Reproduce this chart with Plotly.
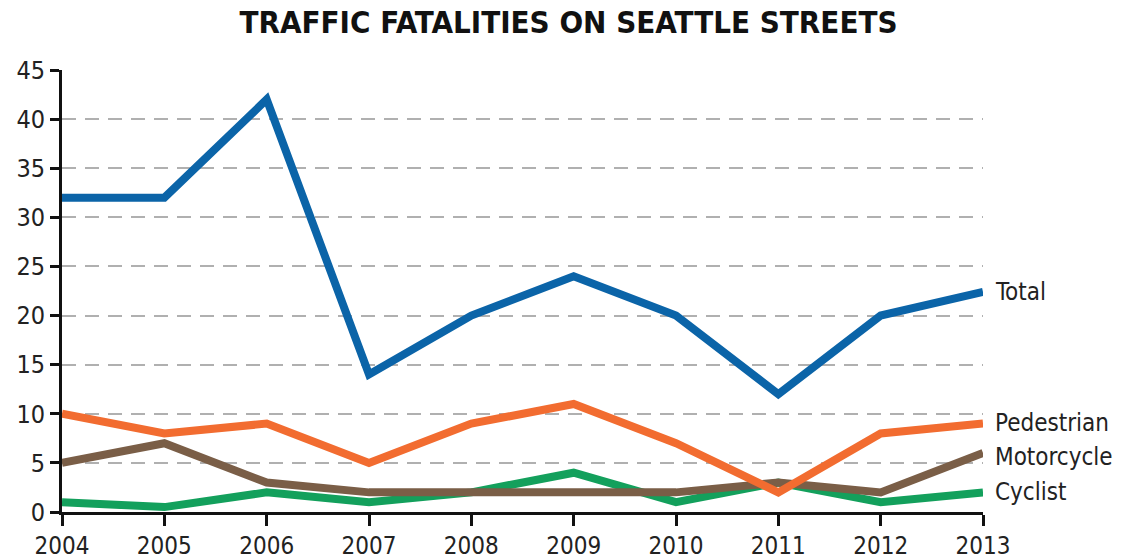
import plotly.graph_objects as go

years = [2004, 2005, 2006, 2007, 2008, 2009, 2010, 2011, 2012, 2013]
total = [32, 32, 42, 14, 20, 24, 20, 12, 20, 22.4]
pedestrian = [10, 8, 9, 5, 9, 11, 7, 2, 8, 9]
motorcycle = [5, 7, 3, 2, 2, 2, 2, 3, 2, 6]
cyclist = [1, 0.5, 2, 1, 2, 4, 1, 3, 1, 2]

series_names = ["Total", "Pedestrian", "Motorcycle", "Cyclist"]
series_values = [total, pedestrian, motorcycle, cyclist]
colors = ["#0b64a8", "#f26c30", "#7a5e47", "#13a05c"]
label_shift = [0, 1, -4, 0]

y_ticks = [0, 5, 10, 15, 20, 25, 30, 35, 40, 45]

FONT = "DejaVu Sans Condensed, sans-serif"

fig = go.Figure()
for name, vals, col in zip(series_names[::-1], series_values[::-1], colors[::-1]):
    fig.add_trace(go.Scatter(x=years, y=vals, mode="lines", name=name,
                             line=dict(color=col, width=8), cliponaxis=False))

for name, vals, col, sh in zip(series_names, series_values, colors, label_shift):
    fig.add_annotation(x=years[-1], y=vals[-1], text=name, showarrow=False,
                       xanchor="left", yanchor="middle", xshift=10, yshift=sh,
                       font=dict(family=FONT, size=24, color="#222222"))

fig.update_layout(
    width=1137, height=559,
    margin=dict(l=62, r=154, t=70, b=47),
    paper_bgcolor="white", plot_bgcolor="white",
    showlegend=False,
    title=dict(text="<b>TRAFFIC FATALITIES ON SEATTLE STREETS</b>",
               x=0.5, xref="container", xanchor="center",
               y=0.96, yref="container", yanchor="middle",
               font=dict(family="DejaVu Sans Condensed, sans-serif", size=31, color="#111111")),
)
fig.update_xaxes(range=[2004, 2013], tickvals=years, ticktext=[str(y) for y in years],
                 automargin=False,
                 showgrid=False, zeroline=False, showline=True, linecolor="#111111", linewidth=3,
                 ticks="outside", ticklen=11, tickwidth=3, tickcolor="#111111",
                 ticklabelstandoff=-1,
                 tickfont=dict(family=FONT, size=24, color="#222222"))
fig.update_yaxes(range=[0, 45], tickvals=y_ticks, automargin=False,
                 showgrid=True, gridcolor="#b0b0b0", griddash="14px,9px", gridwidth=1.5,
                 zeroline=False, showline=True, linecolor="#111111", linewidth=3,
                 ticks="outside", ticklen=9, tickwidth=3, tickcolor="#111111",
                 tickfont=dict(family=FONT, size=25, color="#222222"))

fig.write_html("out.html", config={"displayModeBar": False},
               post_script="document.body.style.margin='0';document.body.style.padding='0';document.body.style.overflow='hidden';")
